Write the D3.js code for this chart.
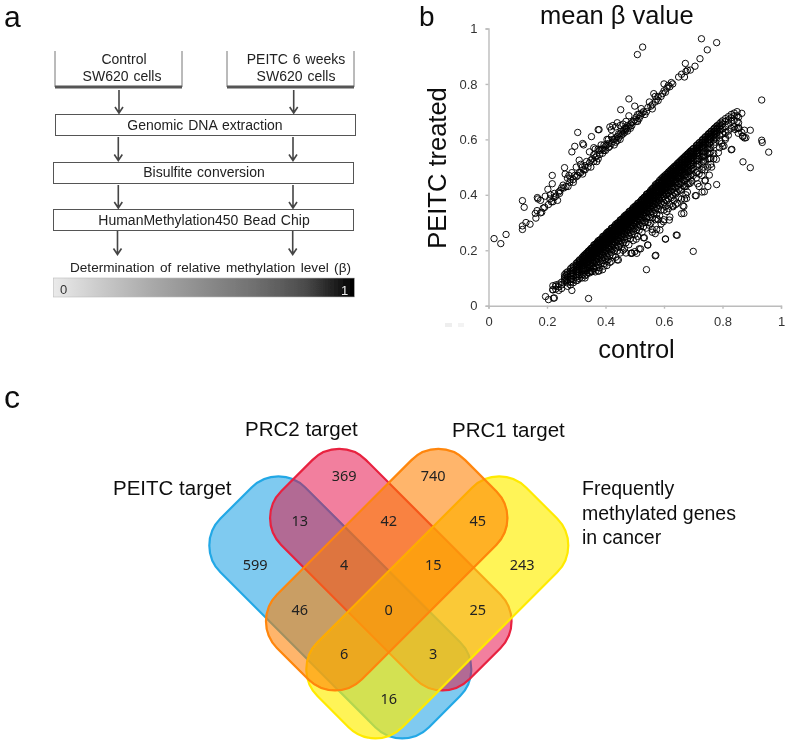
<!DOCTYPE html>
<html><head><meta charset="utf-8">
<style>html,body{margin:0;padding:0;background:#fff}svg{display:block}text{font-family:"Liberation Sans",Arial,sans-serif}</style>
<script src="https://cdnjs.cloudflare.com/ajax/libs/d3/7.8.5/d3.min.js"></script>
</head><body><svg id="c" width="787" height="744"></svg>
<script>
// ---------- panel b data: [control, treated]
const axisTicks=[0,0.2,0.4,0.6,0.8,1];
const upperBand=[[.019,.242],[.042,.224],[.06,.257],[.116,.379],[.122,.355],[.116,.275],[.116,.288],[.128,.30],[.142,.294],[.162,.316],[.16,.333],[.166,.343],[.167,.39],[.169,.385],[.178,.38],[.178,.335],[.182,.337],[.187,.352],[.192,.355],[.194,.395],[.203,.42],[.205,.365],[.212,.40],[.218,.47],[.218,.44],[.22,.375],[.224,.39],[.23,.395],[.236,.38],[.243,.405],[.25,.425],[.255,.435],[.258,.425],[.26,.498],[.262,.475],[.27,.46],[.272,.43],[.278,.445],[.285,.555],[.285,.48],[.29,.455],[.295,.47],[.295,.575],[.30,.50],[.305,.625],[.31,.525],[.315,.48],[.322,.475],[.322,.585],[.325,.58],[.33,.49],[.335,.52],[.34,.50],[.35,.525],[.352,.61],[.36,.57],[.36,.545],[.365,.535],[.37,.52],[.375,.635],[.378,.635],[.38,.56],[.385,.565],[.39,.55],[.40,.56],[.405,.58],[.41,.60],[.415,.575],[.415,.645],[.42,.61],[.425,.65],[.43,.58],[.435,.59],[.44,.61],[.44,.66],[.45,.60],[.45,.65],[.455,.615],[.452,.707],[.46,.63],[.465,.625],[.47,.64],[.47,.665],[.48,.645],[.48,.685],[.48,.746],[.485,.655],[.49,.66],[.5,.72],[.5,.67],[.505,.68],[.51,.69],[.515,.675],[.522,.711],[.525,.695],[.53,.70],[.54,.70],[.55,.735],[.555,.72],[.56,.725],[.565,.765],[.57,.735],[.57,.755],[.575,.745],[.58,.74],[.59,.755],[.595,.765],[.6,.775],[.6,.80],[.61,.785],[.615,.795],[.62,.79],[.625,.805],[.65,.825],[.66,.835],[.67,.825],[.673,.874],[.675,.845],[.68,.85],[.69,.85],[.706,.864],[.723,.891],[.748,.923],[.78,.949],[.728,.963],[.509,.906],[.527,.933],
[.325,.49],[.345,.515],[.355,.53],[.37,.54],[.375,.53],[.38,.545],[.39,.565],[.395,.56],[.40,.575],[.41,.57],[.42,.585],[.425,.60],[.43,.60],[.44,.595],[.445,.62],[.455,.63],[.46,.62],[.465,.64],[.47,.635],[.475,.65],[.485,.64],[.495,.665],[.505,.665],[.515,.69],[.52,.685],[.535,.69],[.545,.715],[.56,.71],[.58,.755],[.605,.77],[.63,.80],[.245,.415],[.265,.43],[.28,.455],[.29,.445],[.30,.465],[.305,.47],[.31,.48],[.315,.51],[.32,.50],[.33,.505],[.35,.50],[.36,.52],[.385,.58],[.395,.58],[.41,.585],[.435,.605],[.445,.605],[.45,.62],[.475,.63],[.49,.65],[.51,.665],[.21,.385],[.215,.375],[.225,.405],[.24,.41],[.275,.47],[.345,.555],[.365,.565],[.375,.565],[.405,.60],[.42,.635],[.435,.645],[.46,.655]];
const lowerColumns=[
[.195,[.033]],[.205,[.022]],[.225,[.028]],[.285,[.055]],[.342,[.026]],
[.22,[.058,.057,.072]],[.23,[.075,.06,.07]],[.24,[.078,.068,.055]],[.25,[.075,.062,.085]],
[.26,[.112,.104,.098,.09]],[.265,[.118,.108,.096,.088]],[.27,[.122,.113,.104,.094,.082,.07]],[.28,[.133,.124,.116,.107,.095,.086,.075]],
[.285,[.138,.127,.119,.11,.098]],[.29,[.143,.135,.127,.116,.108,.094,.083]],[.30,[.153,.146,.138,.129,.122,.111,.103,.09]],
[.305,[.158,.149,.142,.133,.124,.115,.106,.092]],[.31,[.163,.155,.148,.139,.13,.121,.112,.098]],[.32,[.174,.166,.158,.15,.143,.131,.125,.112,.1]],
[.325,[.18,.17,.162,.155,.146,.136,.127,.114]],[.33,[.185,.177,.17,.161,.153,.144,.136,.126,.108]],[.335,[.19,.183,.172,.165,.158,.149,.138,.127,.113]],
[.34,[.195,.187,.18,.171,.162,.155,.147,.135,.119]],[.345,[.2,.192,.183,.178,.168,.16,.148,.137,.118]],[.35,[.206,.198,.19,.183,.173,.167,.154,.142,.123]],
[.355,[.209,.2,.193,.184,.175,.166,.156,.142,.123]],[.36,[.219,.211,.2,.195,.183,.177,.164,.152,.133]],[.365,[.222,.214,.207,.198,.191,.18,.172,.161,.144,.122]],
[.37,[.224,.215,.208,.199,.19,.181,.171,.157,.138]],[.375,[.234,.226,.215,.21,.198,.192,.179,.167,.148,.125]],[.38,[.237,.229,.222,.213,.206,.195,.187,.176,.159,.137]],
[.385,[.239,.23,.223,.214,.205,.196,.186,.172,.153]],[.39,[.249,.241,.23,.225,.213,.207,.194,.182,.163,.13]],[.395,[.252,.244,.237,.228,.221,.21,.202,.191,.174,.152]],
[.40,[.254,.245,.238,.229,.22,.211,.201,.187,.168]],[.405,[.264,.256,.245,.24,.228,.222,.209,.197,.178,.145]],[.41,[.267,.259,.252,.243,.236,.225,.217,.206,.189,.167]],
[.415,[.269,.26,.253,.244,.235,.226,.216,.202,.183]],[.42,[.279,.271,.26,.255,.243,.237,.224,.212,.193,.16]],[.425,[.282,.274,.267,.258,.251,.24,.232,.221,.204,.182]],
[.43,[.284,.275,.268,.259,.25,.241,.231,.217,.198]],[.435,[.294,.286,.275,.27,.258,.252,.239,.227,.208,.175]],[.44,[.297,.289,.282,.273,.266,.255,.247,.236,.219,.197,.165]],
[.445,[.299,.29,.283,.274,.265,.256,.246,.232,.213]],[.45,[.309,.301,.29,.285,.273,.267,.254,.242,.223,.19]],[.455,[.312,.304,.297,.288,.281,.27,.262,.251,.234,.212]],
[.46,[.314,.305,.298,.289,.28,.271,.261,.247,.228,.2]],[.465,[.324,.316,.305,.3,.288,.282,.269,.257,.238,.205]],[.47,[.327,.319,.312,.303,.296,.285,.277,.266,.249,.227,.19]],
[.475,[.329,.32,.313,.304,.295,.286,.276,.262,.243]],[.48,[.339,.331,.32,.315,.303,.297,.284,.272,.253,.22]],[.485,[.342,.334,.327,.318,.311,.3,.292,.281,.264,.242]],
[.49,[.344,.335,.328,.319,.31,.301,.291,.277,.258,.19]],[.495,[.354,.346,.335,.33,.318,.312,.299,.287,.268,.235]],[.5,[.357,.349,.342,.333,.326,.315,.307,.296,.279,.257,.195]],
[.505,[.359,.35,.343,.334,.325,.316,.306,.292,.273,.24]],[.51,[.369,.361,.35,.345,.333,.327,.314,.302,.283,.25]],[.515,[.372,.364,.357,.348,.341,.33,.322,.311,.294,.272]],
[.52,[.374,.365,.358,.349,.34,.331,.321,.307,.288,.205]],[.525,[.384,.376,.365,.36,.348,.342,.329,.317,.298,.265]],[.53,[.388,.38,.372,.363,.355,.345,.336,.325,.308,.285,.245]],
[.535,[.392,.382,.375,.365,.355,.345,.335,.32,.30]],[.54,[.402,.394,.384,.378,.366,.36,.347,.334,.315,.28,.13]],[.545,[.405,.397,.39,.38,.372,.36,.352,.34,.322,.3,.219]],
[.55,[.408,.399,.391,.381,.372,.363,.352,.337,.318,.29]],[.555,[.417,.409,.398,.393,.38,.374,.36,.348,.33,.298]],[.56,[.422,.414,.406,.397,.389,.378,.37,.358,.34,.317,.275]],
[.565,[.426,.416,.408,.398,.389,.379,.368,.353,.333]],[.57,[.436,.428,.417,.411,.398,.392,.378,.365,.345,.31,.26,.18]],[.575,[.44,.431,.424,.414,.406,.394,.385,.373,.355,.33,.275]],
[.58,[.444,.434,.426,.416,.406,.396,.385,.37,.35,.31]],[.585,[.452,.444,.433,.427,.414,.408,.393,.38,.36,.325]],[.59,[.457,.448,.44,.43,.422,.41,.4,.388,.37,.345,.295]],
[.595,[.462,.452,.444,.434,.424,.414,.402,.386,.365]],[.6,[.467,.459,.448,.442,.428,.422,.407,.394,.372,.345,.31]],[.605,[.472,.463,.455,.445,.437,.425,.415,.402,.383,.358,.24]],
[.61,[.476,.466,.458,.447,.437,.427,.415,.4,.378,.34]],[.615,[.482,.474,.462,.456,.442,.436,.42,.406,.385,.35]],[.62,[.487,.478,.47,.46,.451,.44,.428,.414,.395,.365,.32]],
[.625,[.492,.482,.474,.463,.452,.442,.43,.413,.39]],[.63,[.497,.489,.478,.471,.457,.45,.434,.42,.398,.36]],[.635,[.502,.493,.485,.474,.466,.454,.443,.428,.408,.38]],
[.64,[.506,.496,.488,.477,.466,.456,.443,.426,.403,.365]],[.645,[.512,.504,.492,.485,.471,.464,.447,.432,.41,.37,.254]],[.65,[.517,.508,.5,.49,.48,.468,.457,.44,.42,.39]],
[.655,[.522,.512,.504,.492,.482,.47,.458,.44,.415]],[.66,[.527,.519,.507,.5,.486,.478,.46,.445,.42,.385,.332]],[.665,[.532,.523,.514,.504,.495,.482,.47,.454,.432,.36]],
[.67,[.537,.527,.518,.507,.496,.484,.47,.452,.43,.385]],[.675,[.542,.534,.522,.514,.5,.492,.474,.458,.43,.4]],[.68,[.547,.538,.529,.518,.508,.495,.482,.465,.44,.41]],
[.685,[.552,.542,.533,.521,.51,.498,.484,.465,.44]],[.69,[.557,.549,.537,.529,.514,.505,.486,.47,.442]],[.695,[.562,.553,.543,.532,.522,.508,.495,.475,.45]],
[.70,[.566,.556,.547,.535,.523,.51,.495,.47,.196]],[.71,[.577,.568,.556,.547,.533,.522,.502,.48,.46,.397]],[.715,[.582,.572,.562,.55,.54,.525,.51,.485,.44]],
[.72,[.587,.577,.566,.553,.54,.528,.51,.475,.43]],[.73,[.597,.588,.575,.565,.55,.537,.515,.49,.47,.41]],[.735,[.602,.592,.58,.568,.555,.54,.52,.5]],
[.74,[.607,.597,.585,.572,.555,.54,.525,.49,.45]],[.75,[.617,.607,.595,.58,.565,.548,.53,.5,.43]],[.755,[.622,.612,.6,.585,.568,.55,.53]],
[.76,[.627,.617,.604,.59,.57,.555,.53,.51]],[.77,[.637,.627,.613,.598,.58,.55,.53]],[.775,[.642,.63,.618,.605,.59]],[.78,[.647,.636,.622,.605,.437]],
[.79,[.657,.645,.63,.615,.595,.57]],[.795,[.662,.65,.635]],[.80,[.667,.655,.638,.62,.575]],[.81,[.675,.665,.645,.625,.60]],[.82,[.682,.67,.655,.63,.615]],
[.83,[.69,.678,.665,.64,.5625]],[.84,[.695,.685,.668,.645]],[.85,[.70,.685,.665,.64]],[.855,[.68,.66,.64]],[.866,[.694,.625]],
[.875,[.633,.605]],[.87,[.61,.519]],[.88,[.606]],[.895,[.633,.498]],[.934,[.742,.597]],[.936,[.589]],[.958,[.554]]
];
const lowerCore=[
[.312,[.166,.159,.151,.143]],[.327,[.18,.174,.166,.159]],[.342,[.197,.19,.183,.175,.166]],[.352,[.207,.2,.194,.186,.178]],[.362,[.218,.21,.203,.196,.188]],
[.372,[.229,.222,.214,.206,.198,.19]],[.382,[.238,.231,.224,.216,.208,.2]],[.392,[.249,.242,.234,.227,.218,.21]],[.402,[.259,.252,.244,.236,.229,.22]],
[.412,[.269,.262,.255,.247,.239,.23]],[.422,[.279,.272,.264,.257,.248,.24]],[.432,[.289,.282,.274,.267,.259,.25]],[.442,[.299,.292,.284,.277,.268,.26]],
[.452,[.309,.302,.294,.287,.279,.27]],[.462,[.319,.312,.305,.297,.288,.28]],[.472,[.329,.322,.314,.307,.298,.29]],[.482,[.339,.332,.325,.317,.309,.3]],
[.492,[.349,.342,.335,.326,.318,.31]],[.502,[.36,.352,.344,.337,.329,.32]],[.512,[.37,.362,.355,.347,.338,.33]],[.522,[.38,.372,.365,.357,.348,.34]],
[.532,[.391,.383,.375,.367,.358,.35]],[.542,[.401,.393,.385,.377,.369,.36]],[.552,[.411,.403,.395,.387,.379,.37]],[.562,[.422,.414,.405,.397,.389,.38]],
[.572,[.432,.424,.416,.407,.399,.39]],[.582,[.443,.434,.426,.418,.409,.4]],[.592,[.453,.445,.436,.428,.419,.41]],[.602,[.463,.455,.446,.438,.43,.42]],
[.612,[.474,.465,.457,.448,.44,.43]],[.622,[.484,.476,.467,.458,.45,.44]],[.632,[.495,.486,.477,.469,.46]],[.642,[.505,.496,.487,.479,.47]],
[.652,[.516,.507,.498,.489,.48]],[.662,[.526,.517,.508,.499,.49]],[.672,[.536,.527,.518,.51,.5]],[.682,[.547,.538,.528,.52]],[.692,[.557,.548,.539,.53]],
[.702,[.568,.558,.549,.54]],[.712,[.578,.569,.559,.55]],[.722,[.589,.58,.57]],[.732,[.599,.59,.58]],[.742,[.61,.6,.59]],[.752,[.62,.61,.6]],[.762,[.63,.62,.61]],[.772,[.64,.63,.62]],[.782,[.65,.64,.63]]
];
const lowerScatter=[[.738,.411],[.707,.397],[.668,.333],[.668,.358],[.618,.309],[.642,.255],[.605,.241],[.544,.219],[.572,.182],[.515,.205],[.49,.189],[.507,.189],[.533,.245],[.586,.273],[.598,.303],[.56,.265],[.575,.315],[.631,.357],[.677,.387],[.755,.471],[.741,.453],[.763,.5],[.779,.528],[.786,.552],[.832,.564],[.805,.576],[.797,.585],[.81,.606],[.854,.622],[.843,.636],[.856,.642],[.868,.612],[.444,.165],[.378,.125],[.33,.10],[.415,.156],[.395,.143],[.487,.189],[.222,.027],[.35,.125],[.36,.135],[.405,.16]];
const xAxisTitle="control", yAxisTitle="PEITC treated", plotTitle="mean β value";
// ---------- panel c data
const vennSets=["PEITC target","PRC2 target","Frequently methylated genes in cancer","PRC1 target"];
const vennCounts=[599,369,740,13,42,45,4,15,243,46,0,25,6,3,16];
const vennColors=["#0096e1","#e60a3c","#ffee00","#ff7f00"];
const vennStrokes=["#23a8e6","#e8203f","#ffea00","#ff8508"];
const vennOpacity=[.5,.5,.66,.58];
// ---------- panel a data
const flowSteps=["Genomic DNA extraction","Bisulfite conversion","HumanMethylation450  Bead Chip"];
const gradientStops=["#eaeaea","#c8c8c8","#a8a8a8","#8c8c8c","#707070","#4c4c4c","#000000"];

// ---------- layout
const svg=d3.select("#c");
const defs=svg.append("defs");
defs.append("filter").attr("id","soft").attr("x","-5%").attr("y","-5%").attr("width","110%").attr("height","110%")
  .append("feGaussianBlur").attr("stdDeviation",.4);
const T=(g,s,x,y,o={})=>g.append("text").text(s).attr("x",x).attr("y",y)
  .attr("font-size",o.size||14).attr("fill",o.fill||"#222").attr("text-anchor",o.anchor||"start")
  .attr("style",o.style||null);
const root=svg.append("g").attr("filter","url(#soft)");

// panel letters
T(root,"a",4,27,{size:30,fill:"#111"});
T(root,"b",419,25.5,{size:28,fill:"#111"});
T(root,"c",4,408,{size:32,fill:"#111"});

// ---- panel a
const a=root.append("g").attr("class","panel-a");
const topBoxes=[{x0:55,x1:182},{x0:227,x1:354}];
topBoxes.forEach(b=>{
  a.append("path").attr("fill","none").attr("stroke","#777").attr("stroke-width",1)
   .attr("d",d3.line()([[b.x0,51],[b.x0,87],[b.x1,87],[b.x1,51]]));
  a.append("line").attr("x1",b.x0).attr("x2",b.x1).attr("y1",87).attr("y2",87).attr("stroke","#555").attr("stroke-width",2.8);
});
const w={style:"word-spacing:1px"};
T(a,"Control",124,64,{anchor:"middle",...w});
T(a,"SW620 cells",122,81,{anchor:"middle",...w});
T(a,"PEITC 6 weeks",296,64,{anchor:"middle",...w});
T(a,"SW620 cells",296,81,{anchor:"middle",...w});
const stepBoxes=[{x:55.5,y:114,w:300,tx:205,ty:129.5},{x:53.5,y:162,w:300,tx:204,ty:177},{x:53.5,y:209,w:300,tx:204,ty:225}];
a.selectAll("rect.step").data(flowSteps).join("rect").attr("class","step")
  .attr("x",(d,i)=>stepBoxes[i].x).attr("y",(d,i)=>stepBoxes[i].y+.5).attr("width",(d,i)=>stepBoxes[i].w).attr("height",21)
  .attr("fill","#fff").attr("stroke","#555").attr("stroke-width",1);
flowSteps.forEach((s,i)=>T(a,s,stepBoxes[i].tx,stepBoxes[i].ty,{anchor:"middle",...w}));
const arrows=[[119,90,113],[293.7,90,113],[118.3,137,160.5],[293,137,160.5],[118.3,185,208],[293,185,208],[117.5,231,254.5],[292.7,231,254.5]];
arrows.forEach(([x,y0,y1])=>{
  a.append("path").attr("fill","none").attr("stroke","#444").attr("stroke-width",1.6)
   .attr("d",d3.line()([[x,y0],[x,y1]])+d3.line()([[x-4,y1-6],[x,y1],[x+4,y1-6]]));
});
T(a,"Determination of relative methylation level (β)",210.5,272,{anchor:"middle",size:13.6,style:"word-spacing:1.6px"});
const grad=defs.append("linearGradient").attr("id","beta");
grad.selectAll("stop").data(gradientStops).join("stop")
  .attr("offset",(d,i)=>i/(gradientStops.length-1)).attr("stop-color",d=>d);
a.append("rect").attr("x",53.5).attr("y",278).attr("width",301).attr("height",19).attr("fill","url(#beta)").attr("stroke","#bbb").attr("stroke-width",.6);
T(a,"0",60,294,{size:13,fill:"#333"});
T(a,"1",341,295,{size:13,fill:"#eee"});

// ---- panel b
const x=d3.scaleLinear().domain([0,1]).range([488.5,781]);
const y=d3.scaleLinear().domain([0,1]).range([305.7,28.5]);
const b=root.append("g").attr("class","panel-b");
const fmt=d=>d===0||d===1?String(d):d3.format(".1f")(d);
const gx=b.append("g").attr("transform","translate(0,305.7)").call(d3.axisBottom(x).tickValues(axisTicks).tickFormat(fmt).tickSizeOuter(0).tickSize(3));
const gy=b.append("g").attr("transform","translate(488.5,0)").call(d3.axisLeft(y).tickValues(axisTicks).tickFormat(fmt).tickSizeOuter(0).tickSize(3));
[gx,gy].forEach(g=>{
  g.selectAll("path,line").attr("stroke","#bcbcbc").attr("stroke-width",1.4);
  g.selectAll("text").attr("font-size",13).attr("fill","#333").attr("font-family","Liberation Sans");
});
gx.selectAll("text").attr("y",11);
gy.selectAll("text").attr("x",-11);
const lowerBand=lowerColumns.concat(lowerCore).flatMap(([c,ts])=>ts.map(t=>[c,t])).concat(lowerScatter);
b.append("g").selectAll("circle").data(upperBand.concat(lowerBand)).join("circle")
  .attr("cx",d=>x(d[0])).attr("cy",d=>y(d[1])).attr("r",3.2)
  .attr("fill","none").attr("stroke","#000").attr("stroke-width",.95);
T(b,plotTitle,540,24,{size:25.5,fill:"#111"});
T(b,xAxisTitle,636.5,358,{size:25.5,fill:"#111",anchor:"middle"});
T(b,yAxisTitle,0,0,{size:25.5,fill:"#111",anchor:"middle"}).attr("transform","translate(446,168) rotate(-90)");
b.append("rect").attr("x",445).attr("y",323).attr("width",7).attr("height",4).attr("fill","#eee");
b.append("rect").attr("x",458).attr("y",323).attr("width",6).attr("height",4).attr("fill","#f3f3f3");

// ---- panel c
const c=root.append("g").attr("class","panel-c");
const vennShapes=[
 {cx:340.3,cy:607.3,rot:45,L:295,W:120},
 {cx:390.8,cy:569.7,rot:45,L:266,W:120},
 {cx:437.3,cy:607.3,rot:-45,L:295,W:120},
 {cx:386.7,cy:569.7,rot:-45,L:266,W:120}];
c.selectAll("rect").data(vennSets).join("rect")
  .attr("x",(d,i)=>-vennShapes[i].L/2).attr("y",(d,i)=>-vennShapes[i].W/2)
  .attr("width",(d,i)=>vennShapes[i].L).attr("height",(d,i)=>vennShapes[i].W)
  .attr("rx",38).attr("ry",38)
  .attr("transform",(d,i)=>`translate(${vennShapes[i].cx},${vennShapes[i].cy}) rotate(${vennShapes[i].rot})`)
  .attr("fill",(d,i)=>d3.color(vennColors[i]).copy({opacity:vennOpacity[i]}))
  .attr("stroke",(d,i)=>vennStrokes[i]).attr("stroke-width",2.2);
const cellX=d3.scaleLinear().domain([0,1]).range([388.7,433.2]);
const cellY=d3.scaleLinear().domain([0,1]).range([476.3,520.8]);
const cellGrid=[[-3,2],[-1,0],[1,0],[-2,1],[0,1],[2,1],[-1,2],[1,2],[3,2],[-2,3],[0,3],[2,3],[-1,4],[1,4],[0,5]];
c.selectAll("text.n").data(vennCounts).join("text").attr("class","n").text(d=>d)
  .attr("x",(d,i)=>cellX(cellGrid[i][0])).attr("y",(d,i)=>cellY(cellGrid[i][1])+5)
  .attr("text-anchor","middle").attr("font-size",14.5).attr("fill","#222").style("font-family","'Noto Sans'");
T(c,"PEITC target",113,495,{size:20.5,fill:"#111"});
T(c,"PRC2 target",245,436,{size:20.5,fill:"#111"});
T(c,"PRC1 target",452,437,{size:20.5,fill:"#111"});
T(c,"Frequently",582,495,{size:19.5,fill:"#111"});
T(c,"methylated genes",582,520,{size:19.5,fill:"#111"});
T(c,"in cancer",582,544,{size:19.5,fill:"#111"});
</script></body></html>
